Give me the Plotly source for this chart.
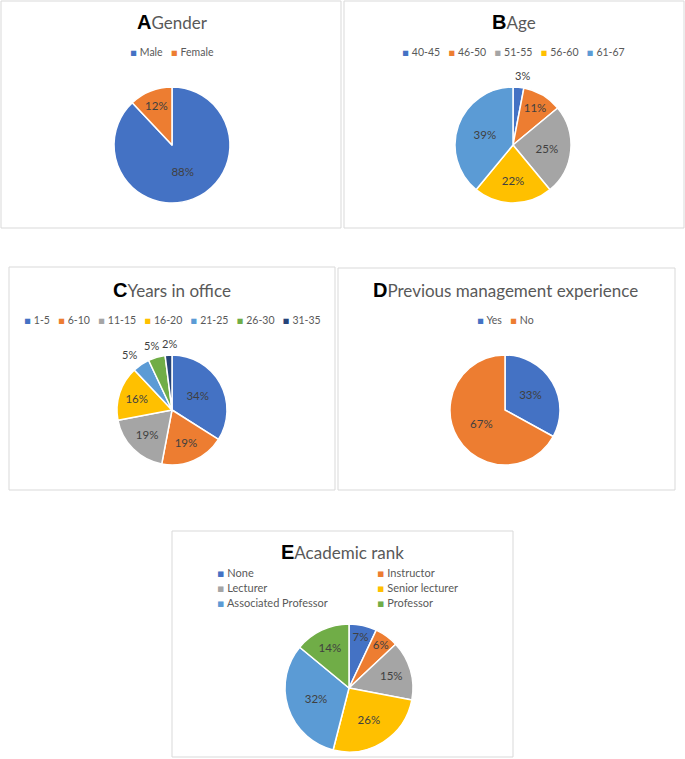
import math
import plotly.graph_objects as go

W, H = 685, 759

# ---------------- data ----------------
gender_labels = ["Male", "Female"]
gender_values = [88, 12]

age_labels = ["40-45", "46-50", "51-55", "56-60", "61-67"]
age_values = [3, 11, 25, 22, 39]

years_labels = ["1-5", "6-10", "11-15", "16-20", "21-25", "26-30", "31-35"]
years_values = [34, 19, 19, 16, 5, 5, 2]

mgmt_labels = ["Yes", "No"]
mgmt_values = [33, 67]

rank_labels = ["None", "Instructor", "Lecturer", "Senior lecturer",
               "Associated Professor", "Professor"]
rank_values = [7, 6, 15, 26, 32, 14]

palette = ["#4472C4", "#ED7D31", "#A5A5A5", "#FFC000", "#5B9BD5", "#70AD47", "#264478"]

TEXT_FONT = "Lato, Open Sans, sans-serif"
GREY = "#595959"
LABEL = "#404040"
LABEL_SIZE = 11.5


def fx(x):
    return x / W


def fy(y):
    return 1 - y / H


panels = [
    dict(letter="A", title="Gender", labels=gender_labels, values=gender_values,
         box=(1, 1, 341, 228), center=(172, 145), r=58, title_xy=(172, 22),
         legend_y=52, legend_cols=None),
    dict(letter="B", title="Age", labels=age_labels, values=age_values,
         box=(344, 1, 684, 228), center=(513, 145), r=58, title_xy=(514, 22),
         legend_y=52, legend_cols=None),
    dict(letter="C", title="Years in office", labels=years_labels, values=years_values,
         box=(9, 267, 335, 490), center=(172, 410), r=55, title_xy=(172, 290),
         legend_y=320, legend_cols=None),
    dict(letter="D", title="Previous management experience", labels=mgmt_labels,
         values=mgmt_values, box=(338, 268, 675, 490), center=(505, 410), r=55,
         title_xy=(505, 290), legend_y=320, legend_cols=None),
    dict(letter="E", title="Academic rank", labels=rank_labels, values=rank_values,
         box=(172, 531, 513, 757), center=(349, 688), r=64, title_xy=(342, 552),
         legend_y=573, legend_cols=(218, 378)),
]

fig = go.Figure()
shapes = []
annotations = []

for p in panels:
    cx, cy = p["center"]
    r = p["r"]
    vals = p["values"]
    n = len(p["labels"])
    colors = palette[:n]
    small = [v <= 5 for v in vals]
    positions = ["none" if s else "inside" for s in small]
    fig.add_trace(go.Pie(
        labels=p["labels"], values=vals,
        sort=False, direction="clockwise", rotation=0,
        marker=dict(colors=colors, line=dict(color="white", width=1.5)),
        texttemplate="%{value}%", textposition=positions,
        insidetextorientation="horizontal",
        textfont=dict(family=TEXT_FONT, size=LABEL_SIZE, color=LABEL),
        domain=dict(x=[fx(cx - r), fx(cx + r)], y=[fy(cy + r), fy(cy - r)]),
        showlegend=False, hoverinfo="label+percent",
    ))

    # outside labels for the thin slices (placed just beyond the slice's mid-angle)
    total = float(sum(vals))
    cum = 0.0
    for v, s in zip(vals, small):
        mid = (cum + v / 2.0) / total * 2 * math.pi
        cum += v
        if not s:
            continue
        lx = cx + (r + 24) * math.sin(mid) + 2
        ly = cy - (r + 12) * math.cos(mid)
        annotations.append(dict(
            x=fx(lx), y=fy(ly), xref="paper", yref="paper", showarrow=False,
            xanchor="center", yanchor="middle", text=f"{v}%",
            font=dict(family=TEXT_FONT, size=11, color=LABEL),
        ))

    x0, y0, x1, y1 = p["box"]
    shapes.append(dict(type="rect", xref="paper", yref="paper",
                       x0=fx(x0), x1=fx(x1), y0=fy(y1), y1=fy(y0),
                       line=dict(color="#D9D9D9", width=1), layer="below"))

    tx, ty = p["title_xy"]
    annotations.append(dict(
        x=fx(tx), y=fy(ty), xref="paper", yref="paper", showarrow=False,
        xanchor="center", yanchor="middle",
        text=(f'<span style="font-family:Liberation Sans, Arial;font-size:20px;color:#000000">'
              f'<b>{p["letter"]}</b></span>{p["title"]}'),
        font=dict(family=TEXT_FONT, size=17, color=GREY),
    ))

    if p["legend_cols"] is None:
        parts = [f'<span style="color:{c};font-family:DejaVu Sans">▪</span>\u00a0{lab}'
                 for lab, c in zip(p["labels"], colors)]
        annotations.append(dict(
            x=fx(cx), y=fy(p["legend_y"]), xref="paper", yref="paper",
            showarrow=False, xanchor="center", yanchor="middle",
            text="\u00a0\u00a0\u00a0".join(parts),
            font=dict(family=TEXT_FONT, size=10.5, color=GREY),
        ))
    else:
        for i, (lab, c) in enumerate(zip(p["labels"], colors)):
            col = i % 2
            row = i // 2
            annotations.append(dict(
                x=fx(p["legend_cols"][col] - 3), y=fy(p["legend_y"] + row * 15),
                xref="paper", yref="paper", showarrow=False,
                xanchor="left", yanchor="middle",
                text=f'<span style="color:{c};font-family:DejaVu Sans">▪</span>\u00a0{lab}',
                font=dict(family=TEXT_FONT, size=11, color=GREY),
            ))

fig.update_layout(
    width=W, height=H,
    margin=dict(l=0, r=0, t=0, b=0),
    paper_bgcolor="white", plot_bgcolor="white",
    shapes=shapes, annotations=annotations,
    uniformtext=dict(minsize=LABEL_SIZE, mode="show"),
    font=dict(family=TEXT_FONT, color=GREY),
)

fig.write_html(
    "out.html",
    config={"displayModeBar": False},
    post_script="document.body.style.margin='0';document.body.style.overflow='hidden';",
)
